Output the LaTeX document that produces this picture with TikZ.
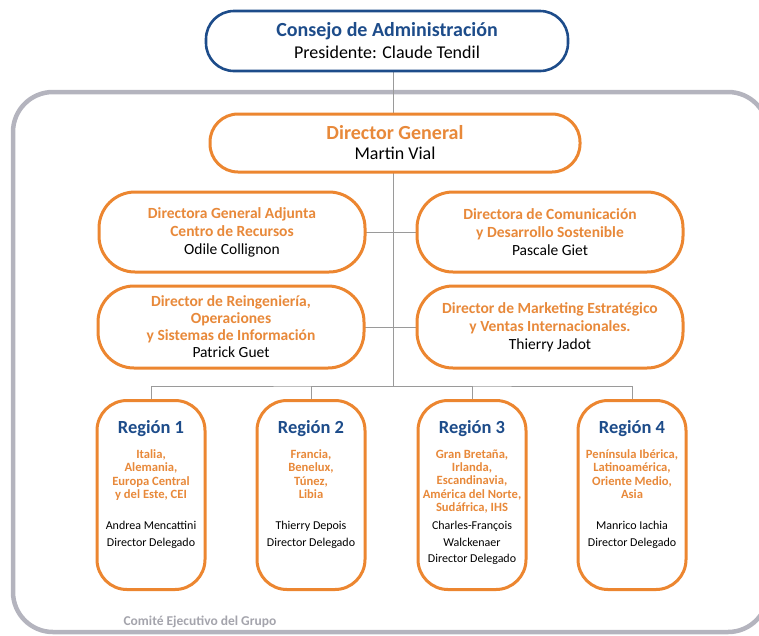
\documentclass[tikz,border=0pt]{standalone}
\usepackage{fontspec}
\setmainfont{Carlito}
\definecolor{navy}{HTML}{1D4C8A}
\definecolor{orng}{HTML}{EC8630}
\definecolor{orngtext}{HTML}{E8893A}
\definecolor{framegray}{HTML}{B4B4BE}
\definecolor{linegray}{HTML}{9A9A9A}
\definecolor{notegray}{HTML}{A4A4AC}
\begin{document}
\begin{tikzpicture}[x=1pt, y=-1pt,
  board/.style={draw=navy, line width=2.6pt, fill=white, rounded corners=28pt,
    minimum width=362pt, minimum height=60pt, align=center, inner sep=0pt,
    font=\fontsize{18}{22}\selectfont},
  chief/.style={draw=orng, line width=3pt, fill=white, rounded corners=28pt,
    minimum width=370pt, minimum height=58pt, align=center, inner sep=0pt,
    font=\fontsize{18}{20}\selectfont},
  staff/.style={draw=orng, line width=3pt, fill=white, rounded corners=36pt,
    minimum width=266pt, minimum height=80pt, align=center, inner sep=0pt,
    font=\fontsize{15.5}{18}\selectfont},
  region/.style={draw=orng, line width=3pt, fill=white, rounded corners=30pt,
    minimum width=108pt, minimum height=189pt, inner sep=0pt},
  regtitle/.style={text=navy, font=\fontsize{18.5}{20}\selectfont\bfseries},
  regarea/.style={text=orngtext, align=center, font=\fontsize{12.6}{13.4}\selectfont\bfseries},
  regname/.style={align=center, anchor=north, font=\fontsize{12}{16.5}\selectfont},
  link/.style={draw=linegray, line width=0.8pt}
]
\useasboundingbox (0,0) rectangle (759,635);

% outer frame
\draw[framegray, line width=4.5pt, rounded corners=40pt] (13,92) rectangle (768,632);
\node[text=notegray, font=\fontsize{13.5}{15}\selectfont\bfseries] (comite) at (200,622) {Comité Ejecutivo del Grupo};

\coordinate (bus) at (393,386);

% connectors
\draw[link] (393,41) -- (bus);
\draw[link] (232,232) -- (550,232);
\draw[link] (231,327) -- (550,327);

\node[board] (consejo) at (387,41) {{\color{navy}\fontsize{20}{22}\selectfont\bfseries Consejo de Administración}\\
  Presidente: Claude Tendil};
\node[chief] (dg) at (395,143) {{\color{orngtext}\fontsize{20}{20}\selectfont\bfseries Director General}\\
  Martin Vial};

\node[staff] (adjunta) at (232,232) {{\color{orngtext}\bfseries Directora General Adjunta}\\
  {\color{orngtext}\bfseries Centro de Recursos}\\
  Odile Collignon};
\node[staff] (comunic) at (550,232) {{\color{orngtext}\bfseries Directora de Comunicación}\\
  {\color{orngtext}\bfseries y Desarrollo Sostenible}\\
  Pascale Giet};
\node[staff, minimum height=82pt, font=\fontsize{15.5}{17}\selectfont] (reing) at (231,327) {{\color{orngtext}\bfseries Director de Reingeniería,}\\
  {\color{orngtext}\bfseries Operaciones}\\
  {\color{orngtext}\bfseries y Sistemas de Información}\\
  Patrick Guet};
\node[staff, minimum height=82pt] (marketing) at (550,327) {{\color{orngtext}\bfseries Director de Marketing Estratégico}\\
  {\color{orngtext}\bfseries y Ventas Internacionales.}\\
  Thierry Jadot};

% regions
\node[region] (r1) at (151,495) {};
\node[region] (r2) at (311,495) {};
\node[region] (r3) at (472,495) {};
\node[region] (r4) at (632,495) {};

\draw[link] (r1.north) |- (bus) -| (r4.north);
\draw[link] (r2.north) |- (bus);
\draw[link] (r3.north) |- (bus);

\node[regtitle] (r1t) at (151,429) {Región 1};
\node[regtitle] (r2t) at (311,429) {Región 2};
\node[regtitle] (r3t) at (472,429) {Región 3};
\node[regtitle] (r4t) at (632,429) {Región 4};

\node[regarea, anchor=north] (r1a) at (151,446) {Italia,\\Alemania,\\Europa Central\\y del Este, CEI};
\node[regarea, anchor=north] (r2a) at (311,446) {Francia,\\Benelux,\\Túnez,\\Libia};
\node[regarea, anchor=north] (r3a) at (472,446) {Gran Bretaña,\\Irlanda,\\Escandinavia,\\América del Norte,\\Sudáfrica, IHS};
\node[regarea, anchor=north] (r4a) at (632,446) {Península Ibérica,\\Latinoamérica,\\Oriente Medio,\\Asia};

\node[regname] (r1n) at (151,518) {Andrea Mencattini\\Director Delegado};
\node[regname] (r2n) at (311,518) {Thierry Depois\\Director Delegado};
\node[regname] (r3n) at (472,518) {Charles-François\\Walckenaer\\Director Delegado};
\node[regname] (r4n) at (632,518) {Manrico Iachia\\Director Delegado};
\end{tikzpicture}
\end{document}
